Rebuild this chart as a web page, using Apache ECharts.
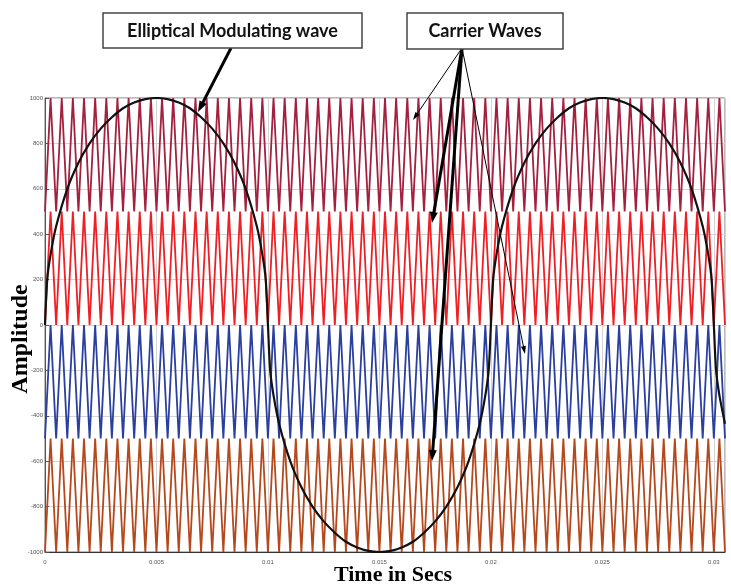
<!DOCTYPE html>
<html>
<head>
<meta charset="utf-8">
<script src="https://cdn.jsdelivr.net/npm/echarts@6/dist/echarts.min.js"></script>
<style>html,body{margin:0;padding:0;background:#fff;}#chart{width:731px;height:584px;}</style>
</head>
<body>
<div id="chart"></div>
<script>
// ---- data ----
// Carrier triangle vertices (ms); vertices alternate trough, peak, trough, ...
const carrierVertexMs = [0,0.25,0.5,0.75,1,1.25,1.5,1.75,2,2.25,2.5,2.75,3,3.25,3.5,3.75,4,4.25,4.5,4.75,5,5.25,5.5,5.75,6,6.25,6.5,6.75,7,7.25,7.5,7.75,8,8.25,8.5,8.75,9,9.25,9.5,9.75,10,10.25,10.5,10.75,11,11.25,11.5,11.75,12,12.25,12.5,12.75,13,13.25,13.5,13.75,14,14.25,14.5,14.75,15,15.25,15.5,15.75,16,16.25,16.5,16.75,17,17.25,17.5,17.75,18,18.25,18.5,18.75,19,19.25,19.5,19.75,20,20.25,20.5,20.75,21,21.25,21.5,21.75,22,22.25,22.5,22.75,23,23.25,23.5,23.75,24,24.25,24.5,24.75,25,25.25,25.5,25.75,26,26.25,26.5,26.75,27,27.25,27.5,27.75,28,28.25,28.5,28.75,29,29.25,29.5,29.75,30,30.25,30.5];
const carrierNames = ['Carrier 1', 'Carrier 2', 'Carrier 3', 'Carrier 4'];
const carrierLow  = [500, 0, -500, -1000];
const carrierHigh = [1000, 500, 0, -500];

// Elliptical modulating wave (ms, amplitude)
const modTimeMs = [0,0.1,0.25,0.5,1,1.5,2,2.5,3,3.5,4,4.5,5,5.5,6,6.5,7,7.5,8,8.5,9,9.5,9.75,9.9,10,
  10.1,10.25,10.5,11,11.5,12,12.5,13,13.5,14,14.5,15,15.5,16,16.5,17,17.5,18,18.5,19,19.5,19.75,19.9,20,
  20.1,20.25,20.5,21,21.5,22,22.5,23,23.5,24,24.5,25,25.5,26,26.5,27,27.5,28,28.5,29,29.5,29.75,29.9,30,
  30.1,30.25,30.5];
const modValues = [0,200,310,435,600,715,800,865,915,955,980,995,1000,995,980,955,915,865,800,715,600,435,310,200,0,
  -200,-310,-435,-600,-715,-800,-865,-915,-955,-980,-995,-1000,-995,-980,-955,-915,-865,-800,-715,-600,-435,-310,-200,0,
  200,310,435,600,715,800,865,915,955,980,995,1000,995,980,955,915,865,800,715,600,435,310,200,0,
  -200,-310,-435];

const xTickStep = 0.005, xMin = 0, xMax = 0.0305;
const yTickStep = 200, yMin = -1000, yMax = 1000;

// ---- build ----
const carrierColors = ['#a3203f', '#ee2026', '#2b3f9e', '#b5481c'];
const series = carrierNames.map((name, i) => ({
  name: name,
  type: 'line',
  showSymbol: false,
  symbol: 'none',
  lineStyle: { color: carrierColors[i], width: 1.8 },
  z: 2,
  data: carrierVertexMs.map((t, k) => [t / 1000, (k % 2 === 0) ? carrierLow[i] : carrierHigh[i]])
}));
series.push({
  name: 'Elliptical Modulating wave',
  type: 'line',
  symbol: 'none',
  smooth: 0.3,
  lineStyle: { color: '#111', width: 2.2 },
  z: 5,
  data: modTimeMs.map((t, k) => [t / 1000, modValues[k]])
});

function arrow(x1, y1, x2, y2, w, hl, hw) {
  const dx = x2 - x1, dy = y2 - y1, L = Math.sqrt(dx * dx + dy * dy);
  const ux = dx / L, uy = dy / L, px = -uy, py = ux;
  const bx = x2 - ux * hl, by = y2 - uy * hl;
  return [
    { type: 'line', z: 100, shape: { x1: x1, y1: y1, x2: bx + ux * 1, y2: by + uy * 1 }, style: { stroke: '#000', lineWidth: w } },
    { type: 'polygon', z: 100, shape: { points: [[x2, y2], [bx + px * hw / 2, by + py * hw / 2], [bx - px * hw / 2, by - py * hw / 2]] }, style: { fill: '#000' } }
  ];
}

const graphics = [].concat(
  arrow(231, 48, 198, 112, 3, 11, 8),
  arrow(462, 48, 413, 120, 1, 8, 5),
  arrow(462, 48, 432, 223, 3, 11, 8),
  arrow(462, 48, 432, 461, 3, 11, 8),
  arrow(462, 48, 525, 354, 1, 8, 5),
  [
    { type: 'rect', z: 101, shape: { x: 103, y: 13, width: 259, height: 35 }, style: { fill: '#fff', stroke: '#444', lineWidth: 1.5 } },
    { type: 'text', z: 102, x: 232.5, y: 31, style: { text: 'Elliptical Modulating wave', font: 'bold 18px Lato', fill: '#111', align: 'center', verticalAlign: 'middle' } },
    { type: 'rect', z: 101, shape: { x: 407, y: 13, width: 156, height: 36 }, style: { fill: '#fff', stroke: '#444', lineWidth: 1.5 } },
    { type: 'text', z: 102, x: 485, y: 31.5, style: { text: 'Carrier Waves', font: 'bold 18px Lato', fill: '#111', align: 'center', verticalAlign: 'middle' } },
    { type: 'text', z: 102, x: 21, y: 339, rotation: Math.PI / 2, style: { text: 'Amplitude', font: 'bold 24px "Liberation Serif"', fill: '#000', align: 'center', verticalAlign: 'middle' } },
    { type: 'text', z: 102, x: 393, y: 575, style: { text: 'Time in Secs', font: 'bold 22px "Liberation Serif"', fill: '#000', align: 'center', verticalAlign: 'middle' } }
  ]
);

const chart = echarts.init(document.getElementById('chart'), null, { renderer: 'canvas' });
chart.setOption({
  animation: false,
  backgroundColor: '#fff',
  grid: { left: 45, right: 6, top: 98, bottom: 32, show: true, borderColor: '#777', borderWidth: 1 },
  xAxis: {
    type: 'value', min: xMin, max: xMax, interval: xTickStep,
    axisLine: { show: true, onZero: false, lineStyle: { color: '#333', width: 1 } },
    axisTick: { show: true, inside: true, length: 4, lineStyle: { color: '#555' } },
    axisLabel: { fontSize: 6, color: '#555', margin: 7, showMaxLabel: false, fontFamily: 'Liberation Sans' },
    splitLine: { show: true, lineStyle: { color: '#d4d4d4', width: 1 } }
  },
  yAxis: {
    type: 'value', min: yMin, max: yMax, interval: yTickStep,
    axisLine: { show: true, onZero: false, lineStyle: { color: '#555', width: 1 } },
    axisTick: { show: true, inside: true, length: 4, lineStyle: { color: '#555' } },
    axisLabel: { fontSize: 6, color: '#555', margin: 2, fontFamily: 'Liberation Sans', formatter: (v) => String(v) },
    splitLine: { show: true, lineStyle: { color: '#d4d4d4', width: 1 } }
  },
  series: series,
  graphic: graphics
});
</script>
</body>
</html>
